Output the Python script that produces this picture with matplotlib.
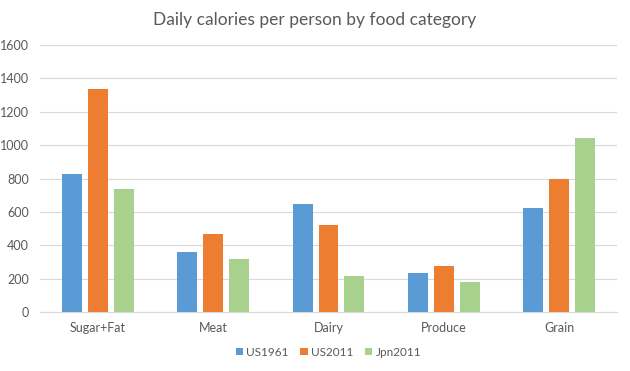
import numpy as np
import matplotlib
matplotlib.use("Agg")
import matplotlib.pyplot as plt

plt.rcParams['font.family'] = ['Lato', 'DejaVu Sans']

categories = ["Sugar+Fat", "Meat", "Dairy", "Produce", "Grain"]
us1961 = [827, 360, 650, 233, 623]
us2011 = [1337, 467, 523, 275, 797]
jpn2011 = [738, 317, 215, 180, 1043]
series_names = ["US1961", "US2011", "Jpn2011"]
colors = ["#5B9BD5", "#ED7D31", "#A9D18E"]

fig = plt.figure(figsize=(6.3, 3.71), dpi=100)
ax = fig.add_axes([40/630, 1-312/371, 577/630, 267/371])

x = np.arange(len(categories))
w = 0.173
step = 0.225
for i, (vals, name) in enumerate(zip([us1961, us2011, jpn2011], series_names)):
    ax.bar(x + (i-1)*step, vals, width=w, color=colors[i], label=name, zorder=3)

ax.set_xlim(-0.5, len(categories)-0.5)
ax.set_ylim(0, 1600)
ax.set_yticks(range(0, 1601, 200))
ax.set_xticks(x)
ax.set_xticklabels(categories)
ax.yaxis.grid(True, color="#D9D9D9", linewidth=0.8, zorder=0)
for s in ["top", "right", "left"]:
    ax.spines[s].set_visible(False)
ax.spines["bottom"].set_color("#D9D9D9")
ax.tick_params(axis="both", length=0, colors="#595959", labelsize=9)
ax.tick_params(axis="x", pad=7)
ax.tick_params(axis="y", pad=8)

fig.text(0.5, 1-20/371, "Daily calories per person by food category",
         ha="center", va="center", fontsize=12.5, color="#595959")

ax.legend(loc="center", bbox_to_anchor=(0.5, (312-352)/267), ncol=3,
          frameon=False, fontsize=8.5, handlelength=0.6, handleheight=0.6,
          handletextpad=0.3, columnspacing=1.0, labelcolor="#595959")

fig.savefig("out.png", dpi=100)
